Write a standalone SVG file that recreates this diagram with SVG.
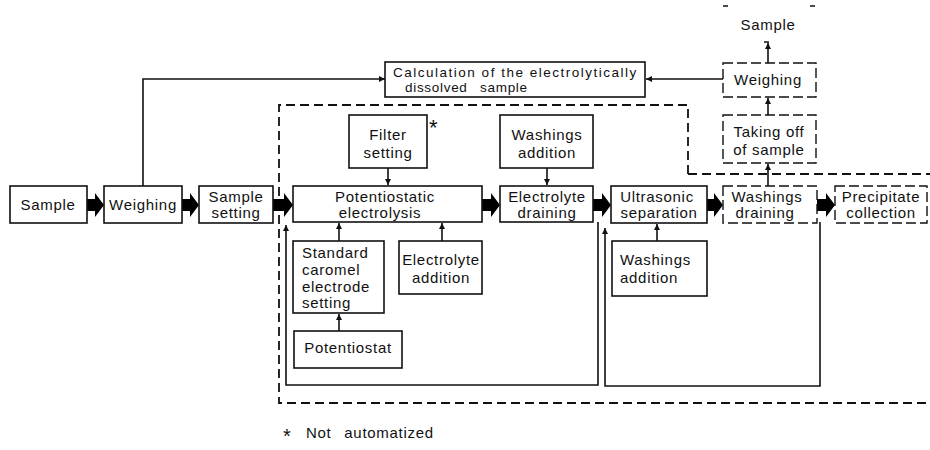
<svg xmlns="http://www.w3.org/2000/svg" width="930" height="450" viewBox="0 0 930 450">
<defs>
<marker id="ah" viewBox="0 0 10 10" refX="10" refY="5" markerWidth="6" markerHeight="6" markerUnits="userSpaceOnUse" orient="auto">
<path d="M0 0 L10 5 L0 10 Z" fill="#111"/>
</marker>
<style>
rect.b{fill:#fff;stroke:#111;stroke-width:1.6}
rect.d{fill:#fff;stroke:#111;stroke-width:1.4;stroke-dasharray:10 4}
rect.c{fill:#fff;stroke:#111;stroke-width:1.3;stroke-dasharray:5 82}
text{font-family:"Liberation Sans",Arial,sans-serif;font-size:15px;fill:#111;letter-spacing:0.7px}
text.m{text-anchor:middle}
text.s{font-size:13.5px}
.la{fill:none;stroke:#111;stroke-width:1.6;marker-end:url(#ah)}
.fat{fill:#000}
.bd{fill:none;stroke:#111;stroke-width:1.8;stroke-dasharray:9 5}
</style>
</defs>
<rect width="930" height="450" fill="#fff"/>

<g id="boundary">
<path class="bd" d="M688 174 V105 H279 V403 H930"/>
<path class="bd" d="M688 174 H930"/>
</g>

<g id="connectors">
<path class="la" d="M143 186 V79 H385"/>
<path class="la" d="M723 79 H646"/>
<path class="la" d="M768 63 V43"/>
<path class="la" d="M768 115 V98"/>
<path class="la" d="M768 186 V164"/>
<path class="la" d="M388 168 V185"/>
<path class="la" d="M547 168 V185"/>
<path class="la" d="M339 241 V223"/>
<path class="la" d="M442 241 V223"/>
<path class="la" d="M339 331 V314"/>
<path class="la" d="M657 241 V224"/>
<path class="la" d="M598 222 V385 H286 V225"/>
<path class="la" d="M820 222 V386 H605 V228"/>
<path class="fat" d="M87 199 H95 V193 L104 205 L95 217 V211 H87 Z"/>
<path class="fat" d="M182 199 H190 V193 L199 205 L190 217 V211 H182 Z"/>
<path class="fat" d="M273 199 H284 V193 L293 205 L284 217 V211 H273 Z"/>
<path class="fat" d="M482 199 H491 V193 L500 205 L491 217 V211 H482 Z"/>
<path class="fat" d="M593 199 H602 V193 L611 205 L602 217 V211 H593 Z"/>
<path class="fat" d="M707 199 H714 V193 L723 205 L714 217 V211 H707 Z"/>
<path class="fat" d="M817 199 H826 V193 L835 205 L826 217 V211 H817 Z"/>
</g>

<g id="sample">
<rect class="b" x="10" y="186" width="77" height="37"/>
<text class="m" x="48" y="210">Sample</text>
</g>
<g id="weighing">
<rect class="b" x="104" y="186" width="78" height="37"/>
<text class="m" x="143" y="210">Weighing</text>
</g>
<g id="sample-setting">
<rect class="b" x="199" y="186" width="74" height="37"/>
<text class="m" x="236" y="202">Sample</text>
<text class="m" x="236" y="218">setting</text>
</g>
<g id="potentiostatic-electrolysis">
<rect class="b" x="293" y="186" width="189" height="36"/>
<text class="m" x="385" y="202">Potentiostatic</text>
<text class="m" x="380" y="218">electrolysis</text>
</g>
<g id="electrolyte-draining">
<rect class="b" x="500" y="186" width="93" height="36"/>
<text class="m" x="547" y="202">Electrolyte</text>
<text class="m" x="547" y="218">draining</text>
</g>
<g id="ultrasonic-separation">
<rect class="b" x="611" y="186" width="96" height="37"/>
<text class="m" x="657" y="202">Ultrasonic</text>
<text class="m" x="659" y="218">separation</text>
</g>
<g id="washings-draining">
<rect class="d" x="723" y="186" width="94" height="37"/>
<text class="m" x="767" y="202">Washings</text>
<text class="m" x="765" y="218">draining</text>
</g>
<g id="precipitate-collection">
<rect class="d" x="835" y="186" width="92" height="37"/>
<text class="m" x="881" y="202">Precipitate</text>
<text class="m" x="881" y="218">collection</text>
</g>
<g id="calculation">
<rect class="b" x="385" y="62" width="260" height="35"/>
<text class="s" x="393" y="77" textLength="244" lengthAdjust="spacing">Calculation of the electrolytically</text>
<text class="s" x="405" y="92" word-spacing="8">dissolved sample</text>
</g>
<g id="sample-top">
<rect class="c" x="723" y="6" width="92" height="36"/>
<text class="m" x="768" y="30">Sample</text>
</g>
<g id="weighing-top">
<rect class="d" x="723" y="63" width="93" height="34"/>
<text class="m" x="768" y="85">Weighing</text>
</g>
<g id="taking-off">
<rect class="d" x="723" y="115" width="93" height="48"/>
<text class="m" x="769" y="137">Taking off</text>
<text class="m" x="769" y="155">of sample</text>
</g>
<g id="filter-setting">
<rect class="b" x="349" y="115" width="78" height="53"/>
<text class="m" x="388" y="140">Filter</text>
<text class="m" x="388" y="158">setting</text>
<text x="429" y="135" style="font-size:22px">*</text>
</g>
<g id="washings-addition-top">
<rect class="b" x="500" y="115" width="93" height="53"/>
<text class="m" x="547" y="140">Washings</text>
<text class="m" x="547" y="158">addition</text>
</g>
<g id="standard-electrode">
<rect class="b" x="293" y="241" width="91" height="72"/>
<text x="302" y="258">Standard</text>
<text x="302" y="275">caromel</text>
<text x="302" y="292">electrode</text>
<text x="302" y="308">setting</text>
</g>
<g id="electrolyte-addition">
<rect class="b" x="399" y="241" width="83" height="53"/>
<text class="m" x="441" y="265">Electrolyte</text>
<text class="m" x="441" y="283">addition</text>
</g>
<g id="potentiostat">
<rect class="b" x="294" y="331" width="108" height="37"/>
<text class="m" x="348" y="353">Potentiostat</text>
</g>
<g id="washings-addition-bottom">
<rect class="b" x="612" y="241" width="95" height="55"/>
<text x="620" y="265">Washings</text>
<text x="620" y="283">addition</text>
</g>
<g id="footnote">
<text x="283" y="443" style="font-size:20px">*</text>
<text x="306" y="438" word-spacing="8">Not automatized</text>
</g>
</svg>
